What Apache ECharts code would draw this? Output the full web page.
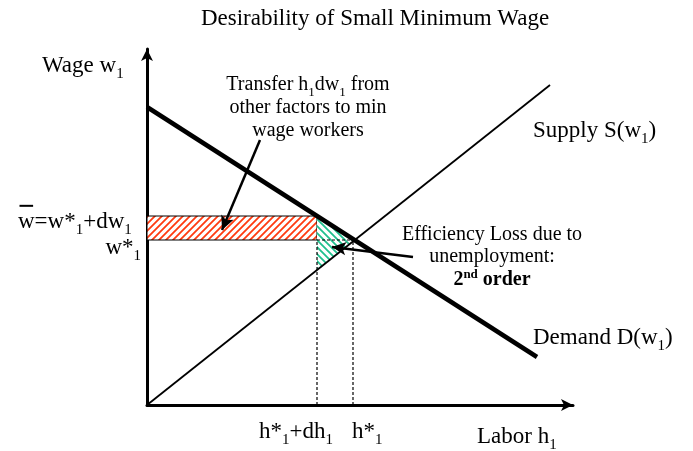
<!DOCTYPE html>
<html><head><meta charset="utf-8">
<script src="https://cdn.jsdelivr.net/npm/echarts@6/dist/echarts.min.js"></script>
<style>html,body{margin:0;padding:0;background:#fff}#c{width:693px;height:451px}</style>
</head><body><div id="c"></div>
<script>
// ---- data (diagram units) ----
const supplyLine = [[0, 0], [403, 320]];
const demandLine = [[0, 298], [390, 48]];
const wageLevels = [165, 189];          // w*1, w-bar
const laborLevels = [170, 206];         // h*1+dh1, h*1
const transferArrow = [[113, 265], [75, 175]];
const lossArrow = [[266, 148], [185, 158]];
const axisMax = [426, 356];

const wStar = wageLevels[0], wBar = wageLevels[1];
const hDh = laborLevels[0], hStar = laborLevels[1];

function lineAt(l, x) {
  const [a, b] = l;
  return a[1] + (b[1] - a[1]) * (x - a[0]) / (b[0] - a[0]);
}
function intersect(l1, l2) {
  const s1 = (l1[1][1] - l1[0][1]) / (l1[1][0] - l1[0][0]);
  const s2 = (l2[1][1] - l2[0][1]) / (l2[1][0] - l2[0][0]);
  const c1 = l1[0][1] - s1 * l1[0][0], c2 = l2[0][1] - s2 * l2[0][0];
  const x = (c2 - c1) / (s1 - s2);
  return [x, s1 * x + c1];
}
const eq = intersect(supplyLine, demandLine);
const triangle = [[hDh, lineAt(demandLine, hDh)], [hDh, lineAt(supplyLine, hDh)], eq];

function hatch(color, dir, size, lw) {
  const c = document.createElement('canvas'); c.width = c.height = size;
  const g = c.getContext('2d'); g.fillStyle = '#fff'; g.fillRect(0, 0, size, size);
  g.strokeStyle = color; g.lineWidth = lw; g.beginPath();
  if (dir > 0) {
    g.moveTo(-1, size + 1); g.lineTo(size + 1, -1);
    g.moveTo(-1, 1); g.lineTo(1, -1);
    g.moveTo(size - 1, size + 1); g.lineTo(size + 1, size - 1);
  } else {
    g.moveTo(-1, -1); g.lineTo(size + 1, size + 1);
    g.moveTo(size - 1, -1); g.lineTo(size + 1, 1);
    g.moveTo(-1, size - 1); g.lineTo(1, size + 1);
  }
  g.stroke(); return c;
}
const redPat = { image: hatch('#FF3A10', 1, 7, 1.8), repeat: 'repeat' };
const greenPat = { image: hatch('#1FC08E', -1, 7, 1.8), repeat: 'repeat' };

// ---- text with sub/superscripts ----
const FF = '"Liberation Serif","Times New Roman",serif';
const mctx = document.createElement('canvas').getContext('2d');
function fontStr(size, bold) { return (bold ? 'bold ' : '') + size + 'px ' + FF; }
function tw(t, size, bold) { mctx.font = fontStr(size, bold); return mctx.measureText(t).width; }
function parse(str) {
  const parts = []; let cur = '';
  for (let i = 0; i < str.length; i++) {
    const ch = str[i];
    if (ch === '_' || ch === '^') {
      if (cur) parts.push([cur, 'n']); cur = '';
      let t;
      if (str[i + 1] === '{') { const j = str.indexOf('}', i); t = str.slice(i + 2, j); i = j; }
      else { t = str[i + 1]; i++; }
      parts.push([t, ch === '_' ? 's' : 'p']);
    } else cur += ch;
  }
  if (cur) parts.push([cur, 'n']);
  return parts;
}
const graphics = [];
// x anchor, y = middle of main text, align, size, markup, bold
function label(x, yMid, align, size, markup, bold) {
  const parts = parse(markup);
  const ss = Math.round(size * 0.65);
  const base = yMid + 0.34 * size;
  const widths = parts.map(p => tw(p[0], p[1] === 'n' ? size : ss, bold));
  const total = widths.reduce((a, b) => a + b, 0);
  let cx = align === 'left' ? x : align === 'right' ? x - total : x - total / 2;
  const start = cx;
  parts.forEach((p, k) => {
    const sz = p[1] === 'n' ? size : ss;
    const bl = p[1] === 's' ? base + 0.24 * size : p[1] === 'p' ? base - 0.38 * size : base;
    graphics.push({
      type: 'text', x: cx, y: bl - 0.34 * sz, silent: true, z: 100,
      style: { text: p[0], font: fontStr(sz, bold), fontSize: sz, fontFamily: FF, fontWeight: bold ? 'bold' : 'normal',
        fill: '#000', align: 'left', textAlign: 'left', verticalAlign: 'middle', textVerticalAlign: 'middle' }
    });
    cx += widths[k];
  });
  return { start: start, base: base };
}

label(375, 19, 'center', 23, 'Desirability of Small Minimum Wage');
label(42, 66, 'left', 23, 'Wage w_1');
label(308, 85, 'center', 20, 'Transfer h_1dw_1 from');
label(308, 108, 'center', 20, 'other factors to min');
label(308, 131, 'center', 20, 'wage workers');
label(533, 131, 'left', 23, 'Supply S(w_1)');
const wb = label(18, 222, 'left', 23, 'w=w*_1+dw_1');
const wW = tw('w', 23);
graphics.push({ type: 'line', silent: true, z: 100,
  shape: { x1: wb.start + 1.5, y1: wb.base - 24, x2: wb.start + wW - 1.5, y2: wb.base - 24 },
  style: { stroke: '#000', lineWidth: 2 } });
label(141, 248, 'right', 23, 'w*_1');
label(492, 235, 'center', 20, 'Efficiency Loss due to');
label(492, 257, 'center', 20, 'unemployment:');
label(492, 280, 'center', 20, '2^{nd} order', true);
label(533, 338, 'left', 23, 'Demand D(w_1)');
label(296, 432, 'center', 23, 'h*_1+dh_1');
label(352, 432, 'left', 23, 'h*_1');
label(477, 437, 'left', 23, 'Labor h_1');

const dashed = { color: '#000', width: 1.2, type: [3, 2] };
const chart = echarts.init(document.getElementById('c'), null, { renderer: 'canvas' });
const axisCommon = {
  type: 'value', min: 0,
  axisTick: { show: false }, axisLabel: { show: false }, splitLine: { show: false },
  axisLine: { show: true, onZero: false, symbol: ['none', 'arrow'], symbolSize: [9, 12],
    lineStyle: { color: '#000', width: 3 } }
};
chart.setOption({
  animation: false,
  backgroundColor: '#fff',
  grid: { left: 147, right: 120, top: 49, bottom: 46 },
  xAxis: Object.assign({}, axisCommon, { max: axisMax[0] }),
  yAxis: Object.assign({}, axisCommon, { max: axisMax[1] }),
  series: [
    {
      type: 'custom', silent: true, z: 2, data: [0],
      renderItem: function (params, api) {
        const p1 = api.coord([0, wBar]), p2 = api.coord([hDh, wStar]);
        return { type: 'rect', shape: { x: p1[0], y: p1[1], width: p2[0] - p1[0], height: p2[1] - p1[1] },
          style: { fill: redPat, stroke: '#000', lineWidth: 1 } };
      }
    },
    {
      type: 'custom', silent: true, z: 2, data: [0],
      renderItem: function (params, api) {
        return { type: 'polygon', shape: { points: triangle.map(p => api.coord(p)) },
          style: { fill: greenPat, stroke: null } };
      }
    },
    { type: 'line', silent: true, z: 3, symbol: 'none', lineStyle: dashed, data: [[hDh, 0], [hDh, wStar]] },
    { type: 'line', silent: true, z: 3, symbol: 'none', lineStyle: dashed, data: [[hStar, 0], [hStar, wStar]] },
    { type: 'line', silent: true, z: 3, symbol: 'none', lineStyle: dashed, data: [[hDh, wStar], [hStar, wStar]] },
    { type: 'line', silent: true, z: 4, symbol: 'none', lineStyle: { color: '#000', width: 1.8 }, data: supplyLine },
    {
      type: 'line', silent: true, z: 5, symbol: 'none', lineStyle: { color: '#000', width: 4.5 }, data: demandLine,
      markLine: {
        silent: true, symbol: ['none', 'arrow'], symbolSize: [10, 14],
        label: { show: false },
        lineStyle: { color: '#000', width: 2.5, type: 'solid' },
        data: [
          [{ coord: transferArrow[0] }, { coord: transferArrow[1] }],
          [{ coord: lossArrow[0] }, { coord: lossArrow[1] }]
        ]
      }
    }
  ],
  graphic: graphics
});
</script>
</body></html>
